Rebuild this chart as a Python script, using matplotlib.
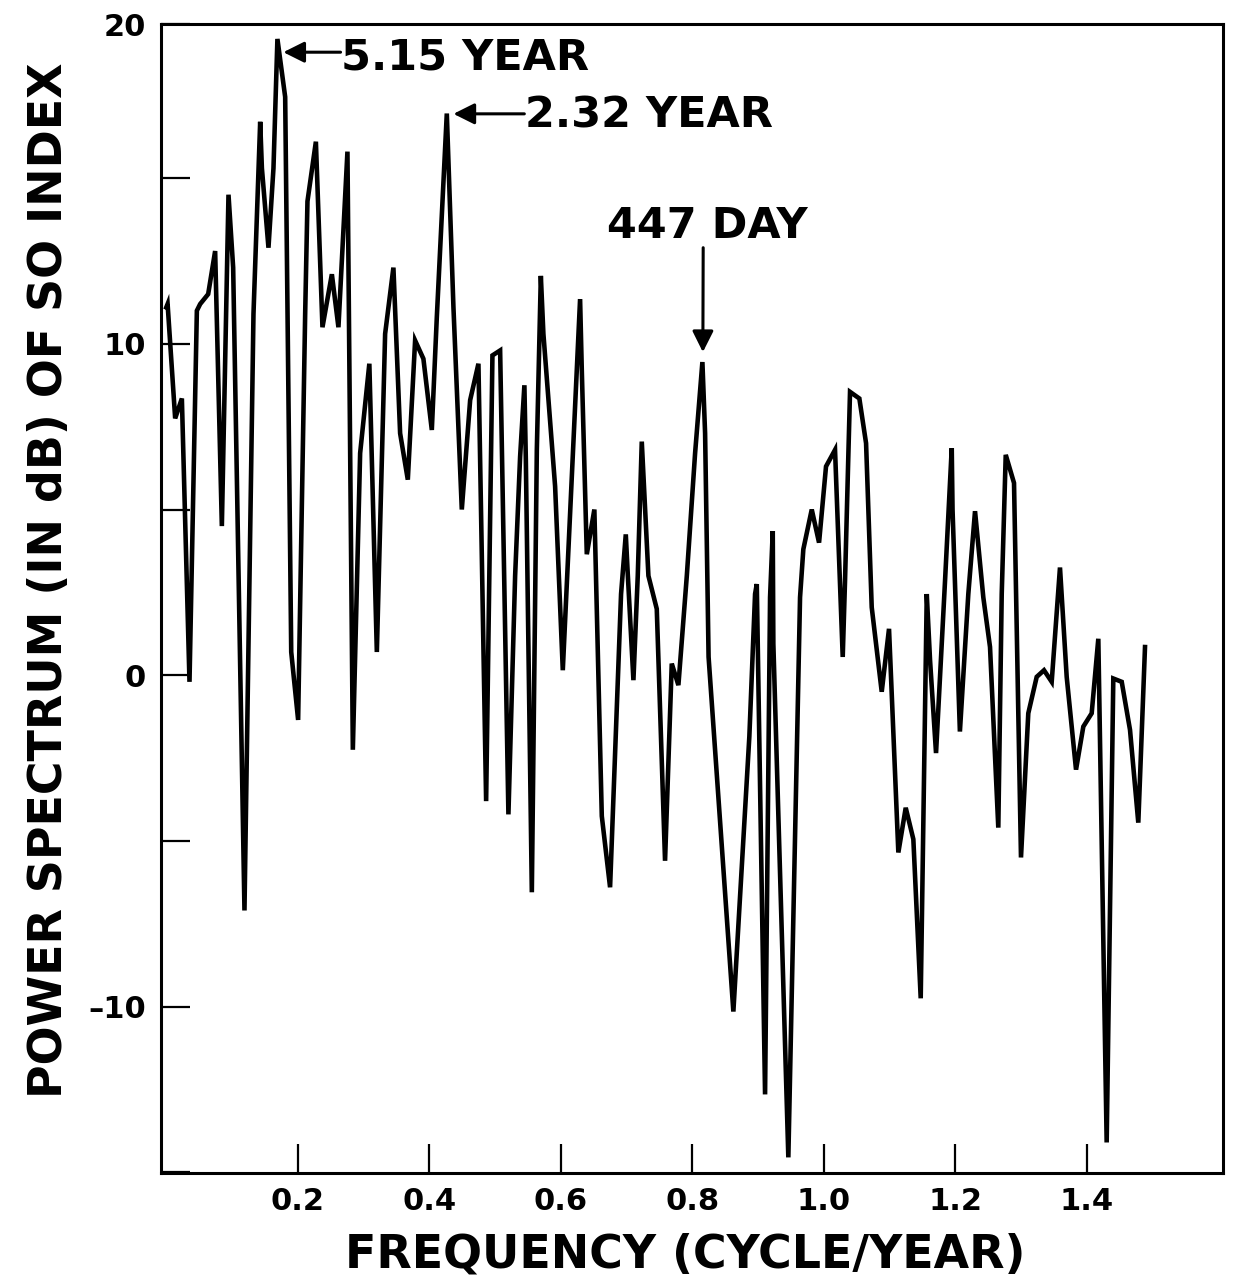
import matplotlib
matplotlib.use("Agg")
import matplotlib.pyplot as plt

# spectrum of the SO index
freq = [0.000, 0.002, 0.0135, 0.0237, 0.0353, 0.0465, 0.0515, 0.0637, 0.0743, 0.0845,
        0.0946, 0.1017, 0.1189, 0.1326, 0.1428, 0.1454, 0.1554, 0.1630, 0.1690, 0.1808,
        0.1900, 0.2005, 0.2112, 0.2147, 0.2275, 0.2375, 0.2518, 0.2618, 0.2755, 0.2837,
        0.2948, 0.3088, 0.3202, 0.3328, 0.3454, 0.3556, 0.3673, 0.3784, 0.3910, 0.4038,
        0.4114, 0.4266, 0.4367, 0.4494, 0.4621, 0.4747, 0.4864, 0.4960, 0.5077, 0.5203,
        0.5305, 0.5381, 0.5446, 0.5468, 0.5559, 0.5635, 0.5696, 0.5735, 0.5913, 0.6030,
        0.6191, 0.6293, 0.6319, 0.6395, 0.6510, 0.6623, 0.6749, 0.6916, 0.6988, 0.7018,
        0.7104, 0.7170, 0.7231, 0.7332, 0.7459, 0.7585, 0.7687, 0.7788, 0.7916, 0.8042,
        0.8153, 0.8194, 0.8247, 0.8624, 0.8867, 0.8954, 0.8980, 0.9106, 0.9182, 0.9223,
        0.9232, 0.9460, 0.9638, 0.9688, 0.9816, 0.9927, 1.0033, 1.0170, 1.0287, 1.0322,
        1.0398, 1.0540, 1.0642, 1.0728, 1.0880, 1.0991, 1.1133, 1.1245, 1.1361, 1.1473,
        1.1565, 1.1615, 1.1706, 1.1843, 1.1945, 1.1957, 1.2069, 1.2197, 1.2299, 1.2425,
        1.2527, 1.2653, 1.2705, 1.2766, 1.2892, 1.2998, 1.3109, 1.3237, 1.3348, 1.3465,
        1.3591, 1.3693, 1.3835, 1.3946, 1.4073, 1.4174, 1.4301, 1.4402, 1.4530, 1.4656,
        1.4782, 1.4884]
power_db = [11.1, 11.2, 7.75, 8.35, -0.2, 11.0, 11.2, 11.5, 12.8, 4.5,
            14.5, 12.3, -7.1, 10.9, 16.7, 15.3, 12.9, 15.3, 19.2, 17.45,
            0.7, -1.35, 10.9, 14.3, 16.1, 10.5, 12.1, 10.5, 15.8, -2.25,
            6.7, 9.4, 0.7, 10.3, 12.3, 7.3, 5.9, 10.1, 9.55, 7.4,
            10.8, 16.95, 11.1, 5.0, 8.3, 9.4, -3.8, 9.65, 9.8, -4.2,
            3.0, 6.6, 8.75, 6.5, -6.55, 6.8, 12.05, 10.3, 5.7, 0.15,
            7.0, 11.35, 9.2, 3.65, 5.0, -4.25, -6.4, 2.45, 4.25, 3.05,
            -0.15, 3.0, 7.05, 3.0, 2.0, -5.6, 0.35, -0.3, 3.0, 6.7,
            9.45, 7.3, 0.55, -10.15, -1.85, 2.45, 2.75, -12.65, 2.35, 4.35,
            0.95, -14.55, 2.35, 3.8, 5.0, 4.0, 6.3, 6.8, 0.55, 2.85,
            8.55, 8.35, 7.0, 2.05, -0.5, 1.4, -5.35, -4.0, -4.95, -9.75,
            2.45, 0.45, -2.35, 2.85, 6.85, 5.0, -1.7, 2.45, 4.95, 2.35,
            0.85, -4.6, 2.45, 6.65, 5.8, -5.5, -1.15, -0.05, 0.15, -0.2,
            3.25, -0.05, -2.85, -1.55, -1.15, 1.1, -14.1, -0.1, -0.2, -1.65,
            -4.45, 0.85]

x_ticks = [0.2, 0.4, 0.6, 0.8, 1.0, 1.2, 1.4]
x_labels = ["0.2", "0.4", "0.6", "0.8", "1.0", "1.2", "1.4"]
y_ticks = [-15, -10, -5, 0, 5, 10, 15, 19.65]
y_labels = ["", "\u201310", "", "0", "", "10", "", "20"]

plt.rcParams["font.family"] = ["DejaVu Sans"]
plt.rcParams["font.weight"] = "bold"

fig = plt.figure(figsize=(12.59, 12.85), dpi=100)
ax = fig.add_axes([0.1279, 0.0872, 0.8435, 0.8941])

ax.plot(freq, power_db, color="black", lw=3.3, solid_joinstyle="miter")

ax.set_xlim(-0.008, 1.607)
ax.set_ylim(-15.02, 19.65)
ax.set_xticks(x_ticks)
ax.set_xticklabels(x_labels)
ax.set_yticks(y_ticks)
ax.set_yticklabels(y_labels)
ax.tick_params(axis="both", direction="in", length=21, width=1.6,
               labelsize=22, pad=10)
ax.tick_params(axis="y", pad=11)
for lbl in ax.get_xticklabels() + ax.get_yticklabels():
    lbl.set_fontweight("bold")
for s in ax.spines.values():
    s.set_linewidth(2.2)

# peak annotations
arrow = dict(arrowstyle="-|>", color="black", lw=2.2, mutation_scale=32,
             shrinkA=0, shrinkB=0)
ax.annotate("", xy=(0.178, 18.8), xytext=(0.265, 18.8), arrowprops=arrow)
ax.text(0.266, 18.65, "5.15 YEAR", fontsize=31, fontweight="bold",
        ha="left", va="center")
ax.annotate("", xy=(0.4367, 16.94), xytext=(0.5445, 16.94), arrowprops=arrow)
ax.text(0.545, 16.9, "2.32 YEAR", fontsize=31, fontweight="bold",
        ha="left", va="center")
ax.annotate("", xy=(0.816, 9.75), xytext=(0.8165, 12.9), arrowprops=arrow)
ax.text(0.8234, 13.2, "447 DAY", fontsize=31, fontweight="bold",
        ha="center", va="baseline")

fig.text(685 / 1259, 1 - 1255 / 1285, "FREQUENCY (CYCLE/YEAR)",
         fontsize=33, fontweight="bold", ha="center", va="center")
fig.text(50 / 1259, 1 - 580 / 1285, "POWER SPECTRUM (IN dB) OF SO INDEX",
         fontsize=33, fontweight="bold", ha="center", va="center", rotation=90)

fig.savefig("out.png", dpi=100)
